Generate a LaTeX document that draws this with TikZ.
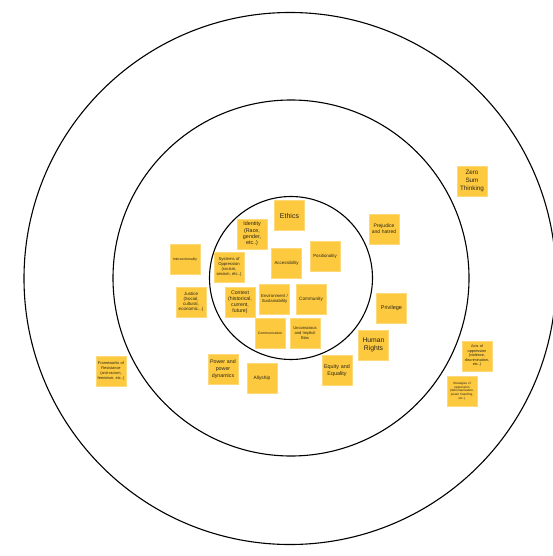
\documentclass[tikz,border=0pt]{standalone}
\usepackage{fontspec}
\setmainfont{Liberation Sans}
\definecolor{sticky}{HTML}{FCC93F}
\definecolor{ink}{HTML}{2B2519}
\newcommand{\fs}[2]{\fontsize{#1}{#2}\selectfont}
\tikzset{
  ring/.style={draw=black, line width=1.1pt},
  sticky note/.style 2 args={rectangle, fill=sticky, draw=sticky!70!white,
    line width=0.4pt, minimum width=30pt, minimum height=30pt,
    text width=30pt, inner sep=0pt, align=center, text=ink,
    font=\fs{#1}{#2}},
}
\begin{document}
\begin{tikzpicture}[x=1pt, y=-1pt]
  \useasboundingbox (0,0) rectangle (553,556);
  \fill[white] (0,0) rectangle (553,556);

  % three rings
  \draw[ring] (290,278.5) circle (266);
  \draw[ring] (291,278) circle (178);
  \draw[ring] (291,278) circle (81.5);

  % inner ring
  \node[sticky note={7}{8}]     (ethics)   at (289.5,215.5) {Ethics};
  \node[sticky note={5.4}{6.4}] (identity) at (252,234)   {Identity\\(Race,\\gender,\\etc..)};
  \node[sticky note={4.2}{5.2}] (systems)  at (229,267)   {Systems of\\Oppression\\(racism,\\sexism, etc..)};
  \node[sticky note={4.4}{5.2}] (access)   at (286.5,263) {Accessibility};
  \node[sticky note={4.4}{5.2}] (position) at (325,256)   {Positionality};
  \node[sticky note={5.2}{6}]   (context)  at (240,302)   {Context\\(historical,\\current,\\future)};
  \node[sticky note={4.3}{5.2}] (environ)  at (274.5,299) {Environment /\\Sustainability};
  \node[sticky note={4.7}{5.2}] (commun)   at (311,299)   {Community};
  \node[sticky note={3.5}{4.4}] (communic) at (270,333.5) {Communication};
  \node[sticky note={4.1}{5.1}] (bias)     at (305,333)   {Unconscious\\and Implicit\\Bias};

  % middle ring
  \node[sticky note={3.5}{4.4}] (intersect) at (185,259.5) {Intersectionality};
  \node[sticky note={4.5}{5.2}] (justice)   at (191,302)   {Justice\\(Social,\\cultural,\\economic...)};
  \node[sticky note={5}{5.8}]   (prejudice) at (384,229)   {Prejudice\\and hatred};
  \node[sticky note={5.5}{6.4}] (privilege) at (391.5,308) {Privilege};
  \node[sticky note={6.8}{8.3}] (rights)    at (373.5,345) {Human\\Rights};
  \node[sticky note={5.3}{6.9}] (power)     at (223,369)   {Power and\\power\\dynamics};
  \node[sticky note={4.8}{5.6}] (allyship)  at (262,378)   {Allyship};
  \node[sticky note={5.4}{6.3}] (equity)    at (337,370.5) {Equity and\\Equality};

  % outer ring
  \node[sticky note={6.3}{7.7}] (zerosum)    at (472,181) {Zero\\Sum\\Thinking};
  \node[sticky note={3.9}{4.7}] (frameworks) at (111,371) {Frameworks of\\Resistance\\(anti-racism,\\feminism, etc..)};
  \node[sticky note={3.8}{4.5}] (acts)       at (477,356) {Acts of\\oppression\\(violence,\\discrimination,\\etc..)};
  \node[sticky note={3.1}{3.8}] (strategies) at (462,391) {Strategies of\\oppression\\(dehumanization,\\power hoarding,\\etc..)};
\end{tikzpicture}
\end{document}
